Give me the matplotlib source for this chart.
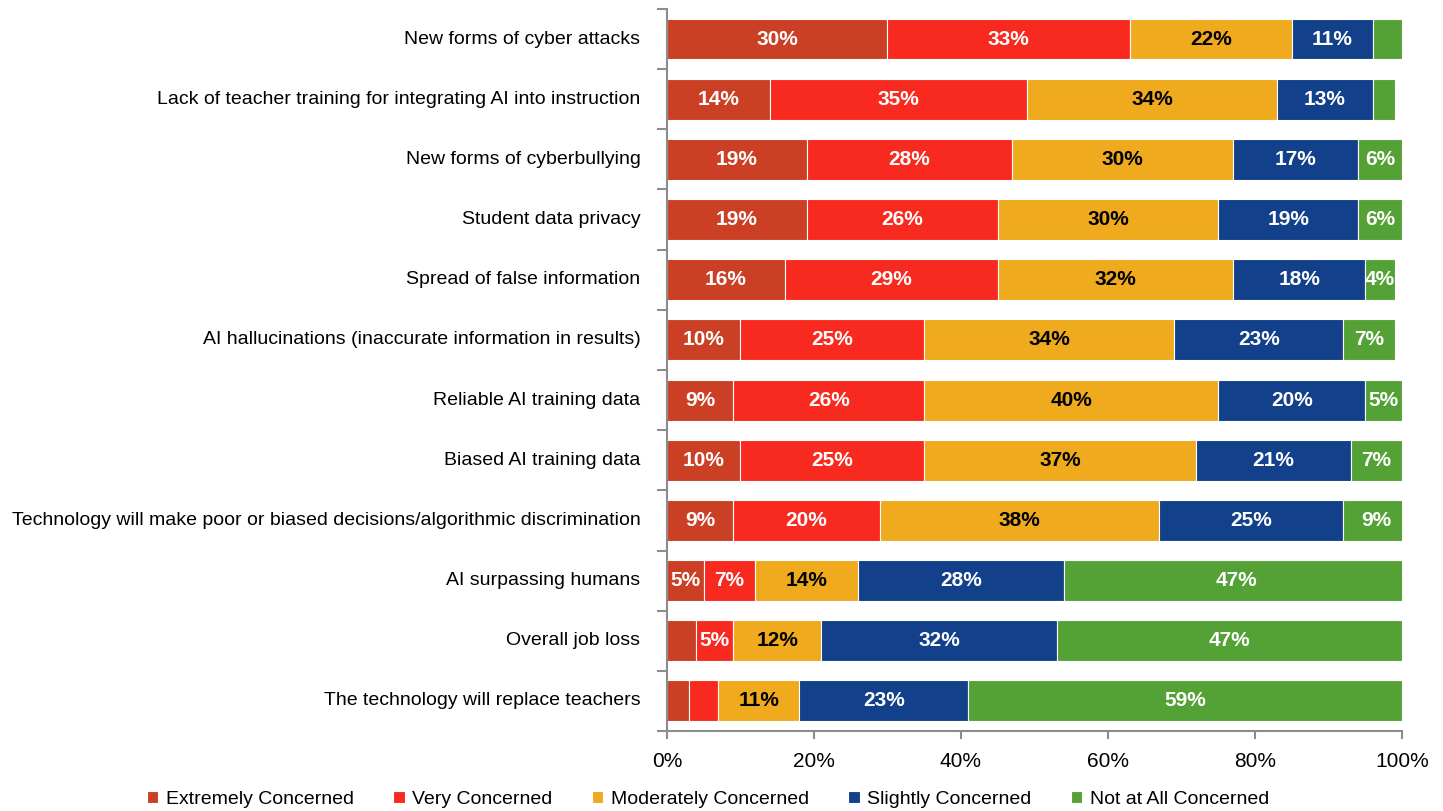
import matplotlib.pyplot as plt
import numpy as np

plt.rcParams["font.family"] = ["Liberation Sans", "DejaVu Sans"]

categories = [
    "New forms of cyber attacks",
    "Lack of teacher training for integrating AI into instruction",
    "New forms of cyberbullying",
    "Student data privacy",
    "Spread of false information",
    "AI hallucinations (inaccurate information in results)",
    "Reliable AI training data",
    "Biased AI training data",
    "Technology will make poor or biased decisions/algorithmic discrimination",
    "AI surpassing humans",
    "Overall job loss",
    "The technology will replace teachers",
]

series = ["Extremely Concerned", "Very Concerned", "Moderately Concerned",
          "Slightly Concerned", "Not at All Concerned"]

extremely = [30, 14, 19, 19, 16, 10, 9, 10, 9, 5, 4, 3]
very = [33, 35, 28, 26, 29, 25, 26, 25, 20, 7, 5, 4]
moderately = [22, 34, 30, 30, 32, 34, 40, 37, 38, 14, 12, 11]
slightly = [11, 13, 17, 19, 18, 23, 20, 21, 25, 28, 32, 23]
not_at_all = [4, 3, 6, 6, 4, 7, 5, 7, 9, 47, 47, 59]

# segments printed without a value label (row, series index)
unlabeled = {(0, 4), (1, 4), (10, 0), (11, 0), (11, 1)}

colors = ["#CB3F24", "#F82A20", "#EFAA1D", "#12408A", "#54A136"]
text_colors = ["white", "white", "black", "white", "white"]

data = [extremely, very, moderately, slightly, not_at_all]

fig = plt.figure(figsize=(14.43, 8.11), dpi=100)
ax = fig.add_axes([0.4622, 0.0986, 0.5094, 0.8904])

y = np.arange(len(categories))
left = np.zeros(len(categories))
for j, (name, vals) in enumerate(zip(series, data)):
    vals = np.array(vals, dtype=float)
    ax.barh(y, vals / 100, left=left / 100, height=0.68, color=colors[j],
            edgecolor="white", linewidth=0.8, label=name)
    for i, v in enumerate(vals):
        if (i, j) in unlabeled:
            continue
        ax.text((left[i] + v / 2) / 100, y[i], f"{int(v)}%", ha="center", va="center",
                color=text_colors[j], fontsize=15, fontweight="bold")
    left += vals

ax.set_ylim(len(categories) - 0.5, -0.5)
ax.set_xlim(0, 1)
ax.set_xticks(np.linspace(0, 1, 6))
ax.set_xticklabels([f"{int(t)}%" for t in np.linspace(0, 100, 6)], fontsize=15)

# category names as text, grey ticks on the boundaries between rows
ax.set_yticks(np.arange(len(categories) + 1) - 0.5)
ax.set_yticklabels([])
for i, c in enumerate(categories):
    ax.text(-0.036, i, c, ha="right", va="center", fontsize=14,
            transform=ax.get_yaxis_transform())

for s in ["top", "right"]:
    ax.spines[s].set_visible(False)
for s in ["left", "bottom"]:
    ax.spines[s].set_color("#8C8C8C")
    ax.spines[s].set_linewidth(1.5)
ax.tick_params(axis="y", length=7, color="#8C8C8C", width=1.5)
ax.tick_params(axis="x", length=6, color="#8C8C8C", width=1.5, pad=9)

handles, labels = ax.get_legend_handles_labels()
fig.legend(handles, labels, loc="center", bbox_to_anchor=(0.4906, 0.014), ncol=5,
           frameon=False, fontsize=14, handlelength=0.6, handleheight=0.6,
           handletextpad=0.4, columnspacing=2.0, borderpad=0)

fig.savefig("out.png", dpi=100)
